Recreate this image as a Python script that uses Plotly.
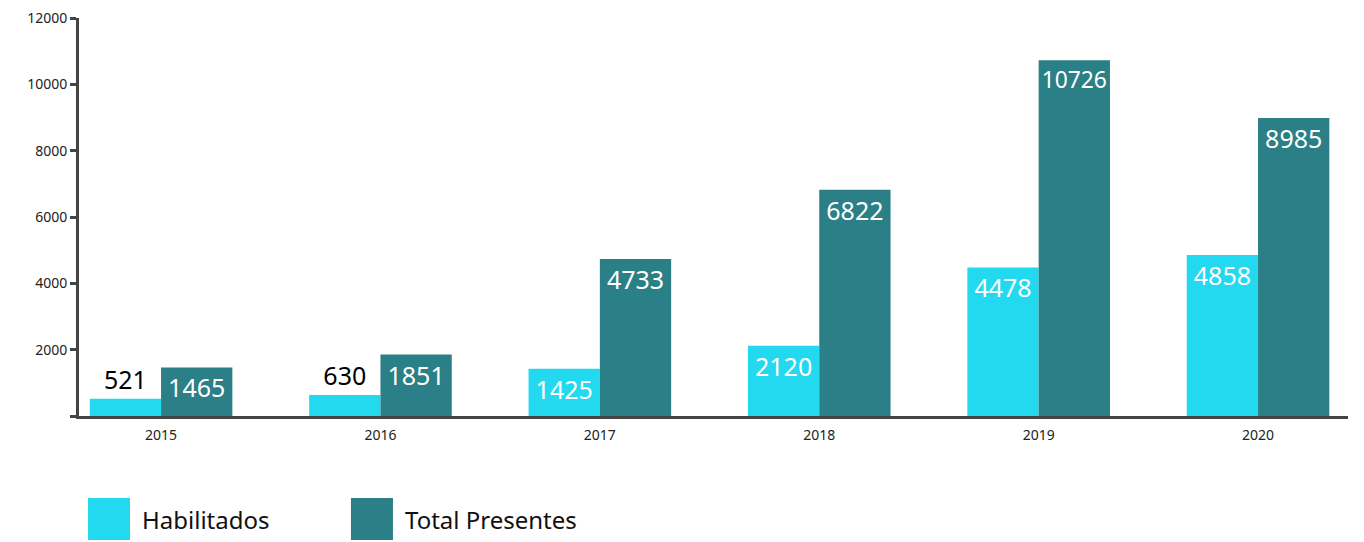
import plotly.graph_objects as go

years = ["2015", "2016", "2017", "2018", "2019", "2020"]
habilitados = [521, 630, 1425, 2120, 4478, 4858]
total_presentes = [1465, 1851, 4733, 6822, 10726, 8985]
y_ticks = [0, 2000, 4000, 6000, 8000, 10000, 12000]
y_tick_text = ["", "2000", "4000", "6000", "8000", "10000", "12000"]

c_hab = "#23D9F0"
c_tot = "#2A8086"
FONT = "Noto Sans"

fig = go.Figure()
for name, vals, col in [("Habilitados", habilitados, c_hab),
                        ("Total Presentes", total_presentes, c_tot)]:
    fig.add_trace(go.Bar(
        x=years, y=vals, name=name, marker=dict(color=col, line=dict(width=0)),
        text=[str(v) for v in vals], textposition="auto", insidetextanchor="end",
        insidetextfont=dict(color="white", size=25, family=FONT),
        outsidetextfont=dict(color="black", size=25, family=FONT),
        textangle=0, cliponaxis=False, showlegend=False,
    ))

fig.update_layout(
    width=1364, height=542,
    margin=dict(l=71, r=24, t=10, b=134),
    paper_bgcolor="white", plot_bgcolor="white",
    barmode="group", bargap=0.35, bargroupgap=0,
    font=dict(family=FONT, color="#222"),
    xaxis=dict(type="category", range=[-0.374, 5.41], showline=True,
               linecolor="#444", linewidth=3, ticks="", showgrid=False,
               ticklabelstandoff=4, automargin=False,
               tickfont=dict(size=14, color="#222"), zeroline=False),
    yaxis=dict(range=[0, 12000], tickvals=y_ticks, ticktext=y_tick_text,
               showline=True, linecolor="#444", linewidth=3, ticks="outside",
               ticklen=6, tickwidth=3, tickcolor="#444", showgrid=False,
               ticklabeloverflow="allow", automargin=False,
               zeroline=False, tickfont=dict(size=14, color="#222")),
)

# legend drawn as large swatches below the plot
legend_items = [("Habilitados", c_hab, 0.0071), ("Total Presentes", c_tot, 0.2143)]
for label, col, x0 in legend_items:
    fig.add_shape(type="rect", xref="paper", yref="paper",
                  x0=x0, x1=x0 + 0.0331, y0=-0.3116, y1=-0.206,
                  fillcolor=col, line=dict(width=0))
    fig.add_annotation(xref="paper", yref="paper", x=x0 + 0.0410, y=-0.261,
                       text=label, showarrow=False, xanchor="left", yanchor="middle",
                       font=dict(size=24, color="#111", family=FONT))

fig.write_html("out.html")
